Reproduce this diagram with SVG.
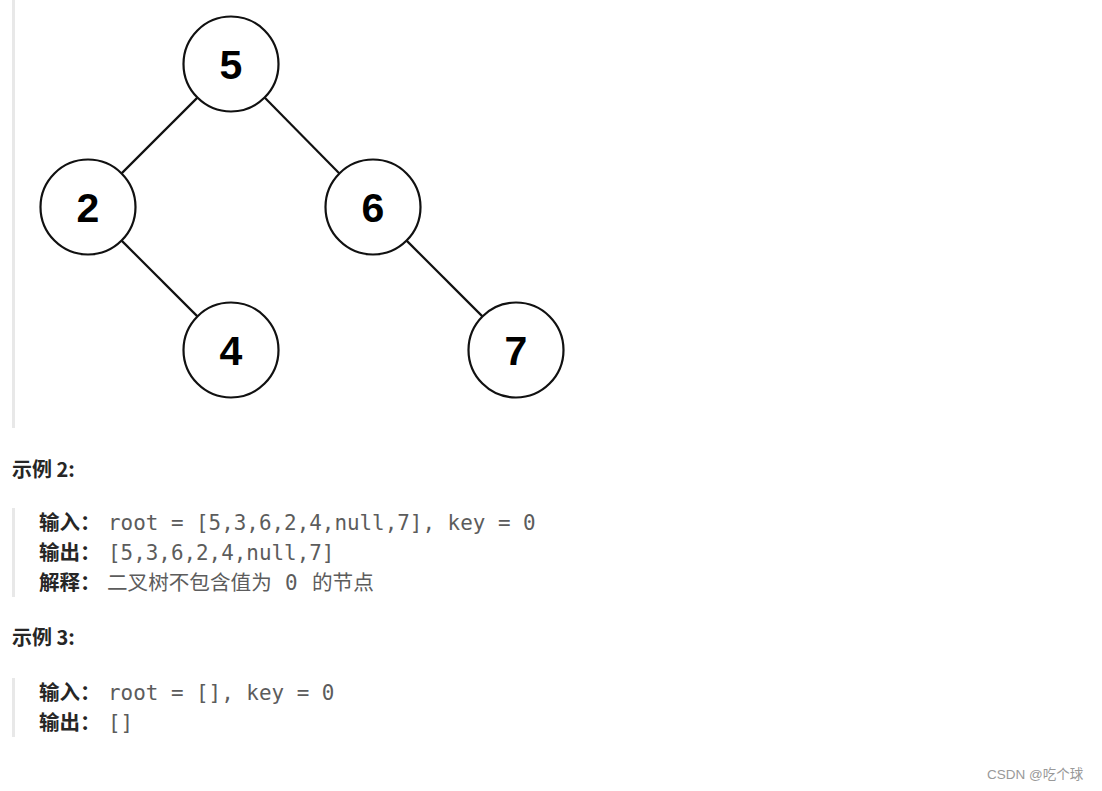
<svg xmlns="http://www.w3.org/2000/svg" width="1102" height="791" viewBox="0 0 1102 791">
<style>
.node circle{fill:#fff;stroke:#111;stroke-width:2.2}
.node text{font-family:"Liberation Sans",Arial,sans-serif;font-weight:bold;font-size:41px;fill:#000;text-anchor:middle}
.edge{stroke:#111;stroke-width:2.2}
.bar{fill:#e8e8e8}
.h{font-family:"Noto Sans CJK SC",sans-serif;font-weight:bold;font-size:20px;fill:#262626}
.lbl{font-family:"Noto Sans CJK SC",sans-serif;font-weight:bold;font-size:20.5px;fill:#262626}
.mono{font-family:"DejaVu Sans Mono",monospace;font-size:20.9px;fill:#5c5c5c}
.cjk{font-family:"Noto Sans CJK SC",sans-serif;font-size:20.6px;fill:#5c5c5c}
.wm{font-family:"Liberation Sans","Noto Sans CJK SC",sans-serif;font-size:13.5px;fill:#999}
</style>
<rect width="1102" height="791" fill="#fff"/>
<rect class="bar" x="12" y="0" width="3" height="428"/>
<rect class="bar" x="12" y="508" width="3" height="89"/>
<rect class="bar" x="12" y="678" width="3" height="59"/>
<g id="connectors">
<line class="edge" x1="197.4" y1="97.6" x2="121.6" y2="173.4"/>
<line class="edge" x1="264.6" y1="97.6" x2="339.4" y2="173.4"/>
<line class="edge" x1="121.6" y1="240.6" x2="197.4" y2="316.4"/>
<line class="edge" x1="406.6" y1="240.6" x2="482.4" y2="316.4"/>
</g>
<g id="node5" class="node"><circle cx="231" cy="64" r="47.5"/><text x="231" y="79">5</text></g>
<g id="node2" class="node"><circle cx="88" cy="207" r="47.5"/><text x="88" y="222">2</text></g>
<g id="node6" class="node"><circle cx="373" cy="207" r="47.5"/><text x="373" y="222">6</text></g>
<g id="node4" class="node"><circle cx="231" cy="350" r="47.5"/><text x="231" y="365">4</text></g>
<g id="node7" class="node"><circle cx="516" cy="350" r="47.5"/><text x="516" y="365">7</text></g>
<text class="h" x="12" y="477">示例 2:</text>
<text class="lbl" x="39" y="530">输入：</text>
<text class="mono" x="108" y="530">root = [5,3,6,2,4,null,7], key = 0</text>
<text class="lbl" x="39" y="560">输出：</text>
<text class="mono" x="108" y="560">[5,3,6,2,4,null,7]</text>
<text class="lbl" x="39" y="590">解释：</text>
<text class="cjk" x="107" y="590">二叉树不包含值为</text>
<text class="mono" x="285" y="590">0</text>
<text class="cjk" x="312" y="590">的节点</text>
<text class="h" x="12" y="645">示例 3:</text>
<text class="lbl" x="39" y="700">输入：</text>
<text class="mono" x="108" y="700">root = [], key = 0</text>
<text class="lbl" x="39" y="730">输出：</text>
<text class="mono" x="108" y="730">[]</text>
<text class="wm" x="987" y="779">CSDN @吃个球</text>
</svg>
